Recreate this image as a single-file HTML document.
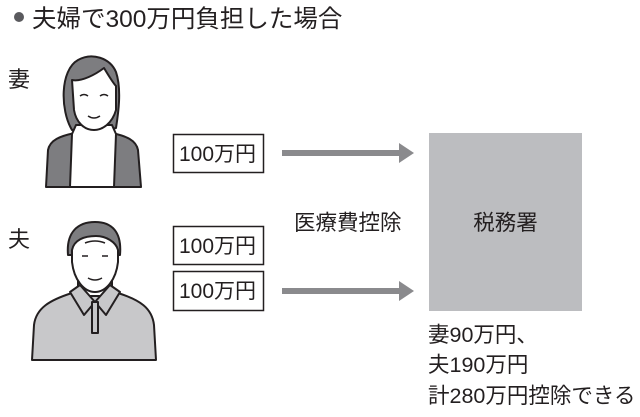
<!DOCTYPE html>
<html><head><meta charset="utf-8"><style>
html,body{margin:0;padding:0;background:#fff;}
svg{display:block;}
text{font-family:"Liberation Sans","Noto Sans CJK JP",sans-serif;fill:#231f20;}
</style></head><body>
<svg width="640" height="417" viewBox="0 0 640 417" xmlns="http://www.w3.org/2000/svg">
<circle cx="19" cy="17" r="5" fill="#5a5a5e"/>
<text x="32" y="27" font-size="24.5">夫婦で300万円負担した場合</text>
<text x="8" y="87" font-size="22">妻</text>
<text x="8" y="247" font-size="22">夫</text>

<!-- wife -->
<g stroke="#231f20" stroke-width="2" stroke-linejoin="round">
<path d="M72,130 C60,110 60,70 78,60 C92,52 110,58 116,72 C122,90 118,115 116,128 L108,130 L100,110 L84,110 L78,130 Z" fill="#7d7d80"/>
<path d="M46,187 L48,150 C50,140 60,136 75,133 L112,133 C126,136 136,140 138,150 L141,187 Z" fill="#7d7d80"/>
<path d="M72,134 L76,125 L112,125 L116,134 L114,187 L70,187 Z" fill="#fff"/>
<path d="M72,80 C82,82 96,74 104,68 C110,78 114,84 116,86 L116,110 C112,124 102,130 94,130 C84,130 76,122 74,110 Z" fill="#fff"/>
</g>
<path d="M80,96 q4,-3 8,0 M100,96 q4,-3 8,0 M88,116 q6,4 12,0" stroke="#231f20" stroke-width="1.5" fill="none"/>

<!-- husband -->
<g stroke="#231f20" stroke-width="2" stroke-linejoin="round">
<path d="M32,360 L34,325 C36,308 50,300 72,293 L118,293 C140,300 152,308 154,325 L156,360 Z" fill="#c8c8ca"/>
<path d="M78,278 L112,278 L112,296 L78,296 Z" fill="#fff"/>
<path d="M70,292 L80,285 L95,302 L84,315 Z M120,292 L110,285 L95,302 L106,315 Z" fill="#c8c8ca"/>
<path d="M92,302 L98,302 L98,333 L92,333 Z" fill="#c8c8ca"/>
<path d="M68,255 C66,232 78,222 95,222 C112,222 122,232 120,255 Z" fill="#7d7d80"/>
<path d="M72,250 C74,240 84,236 96,236 C106,236 116,242 118,250 L118,262 C116,280 106,292 95,292 C84,292 74,280 72,262 Z" fill="#fff"/>
</g>
<path d="M82,256 h6 M102,256 h6 M88,278 q7,4 14,0 M85,243 q10,-4 20,0" stroke="#231f20" stroke-width="1.5" fill="none"/>

<!-- boxes -->
<g fill="#fff" stroke="#231f20" stroke-width="1.5">
<rect x="173.5" y="134.5" width="90" height="38"/>
<rect x="173.5" y="226.5" width="90" height="38"/>
<rect x="173.5" y="271.5" width="90" height="39"/>
</g>
<text x="179" y="161" font-size="21">100万円</text>
<text x="179" y="253" font-size="21">100万円</text>
<text x="179" y="298" font-size="21">100万円</text>

<!-- arrows -->
<g fill="#8a8a8d">
<rect x="282" y="150" width="118" height="6"/>
<polygon points="399,143 414,153 399,163"/>
<rect x="282" y="288" width="118" height="6"/>
<polygon points="399,281 414,291 399,301"/>
</g>
<text x="294" y="230" font-size="21.5">医療費控除</text>

<rect x="429" y="133" width="153" height="178" fill="#bcbdc0"/>
<text x="505.5" y="230" font-size="21.5" text-anchor="middle">税務署</text>

<text x="428" y="342" font-size="21.5">妻90万円、</text>
<text x="428" y="372" font-size="21.5">夫190万円</text>
<text x="428" y="403" font-size="21.5">計280万円控除できる</text>
</svg>
</body></html>
